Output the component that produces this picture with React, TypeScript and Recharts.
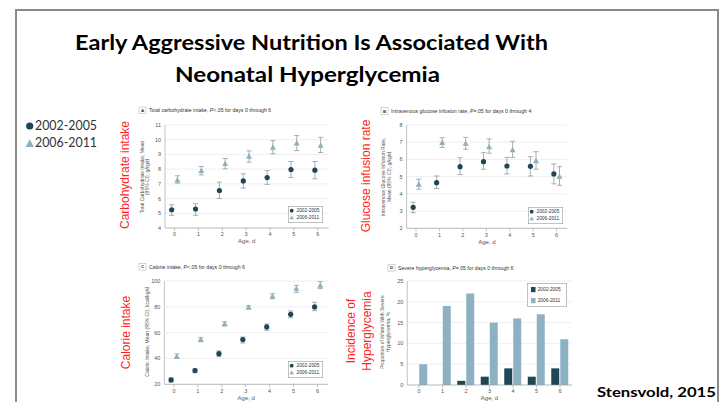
import React from "react";
import {
  ScatterChart,
  Scatter,
  BarChart,
  Bar,
  XAxis,
  YAxis,
  CartesianGrid,
  ErrorBar,
  Legend,
} from "recharts";

const DARK = "#1f4654";
const LIGHT = "#8db1c0";
const RED = "#ff1f1f";
const AXIS = "#9a9a9a";
const GRID = "#e4e4e4";
const TXT = "#555";
const FONT = "'Liberation Sans', Arial, sans-serif";

// ------- data -------
const days = [0, 1, 2, 3, 4, 5, 6];
const cohorts = ["2002-2005", "2006-2011"];

// A: total carbohydrate intake, g/kg/d
const carb2002 = [5.24, 5.29, 6.55, 7.2, 7.43, 7.97, 7.93];
const carb2002Lo = [4.86, 4.86, 6.01, 6.71, 6.96, 7.43, 7.34];
const carb2002Hi = [5.58, 5.65, 7.12, 7.68, 7.9, 8.52, 8.52];
const carb2006 = [7.25, 7.88, 8.36, 8.86, 9.47, 9.76, 9.6];
const carb2006Lo = [7.05, 7.61, 8.02, 8.47, 9.04, 9.26, 9.13];
const carb2006Hi = [7.55, 8.18, 8.72, 9.24, 9.94, 10.28, 10.16];
const carbTicks = [4, 5, 6, 7, 8, 9, 10, 11];

// B: IV glucose infusion rate, g/kg/d
const gir2002 = [3.22, 4.65, 5.58, 5.87, 5.62, 5.6, 5.16];
const gir2002Lo = [2.91, 4.31, 5.12, 5.43, 5.16, 5.04, 4.58];
const gir2002Hi = [3.51, 5.04, 6.1, 6.39, 6.12, 6.16, 5.74];
const gir2006 = [4.54, 6.97, 6.92, 6.72, 6.55, 5.91, 5.0];
const gir2006Lo = [4.27, 6.7, 6.59, 6.36, 6.12, 5.43, 4.5];
const gir2006Hi = [4.85, 7.26, 7.28, 7.19, 7.05, 6.45, 5.58];
const girTicks = [2, 3, 4, 5, 6, 7, 8];

// C: calorie intake, kcal/kg/d
const cal2002 = [23.4, 30.6, 43.7, 54.6, 64.4, 74.2, 79.9];
const cal2002Lo = [21.8, 29.0, 41.4, 52.0, 61.8, 71.6, 77.0];
const cal2002Hi = [24.9, 32.1, 45.8, 56.6, 66.7, 76.8, 83.5];
const cal2006 = [41.4, 54.6, 66.7, 79.6, 88.1, 94.1, 96.4];
const cal2006Lo = [40.1, 53.0, 65.2, 78.3, 86.3, 91.2, 94.1];
const cal2006Hi = [43.5, 56.1, 68.5, 80.9, 90.2, 96.6, 99.5];
const calTicks = [20, 40, 60, 80, 100];

// D: severe hyperglycemia, %
const hyper2002 = [0, 0, 1, 2, 4, 2, 4];
const hyper2006 = [5, 19, 22, 15, 16, 17, 11];
const hyperTicks = [0, 5, 10, 15, 20, 25];

const DODGE = 0.12;

function rows(vals: number[], lo: number[], hi: number[], shift: number) {
  return days.map((d, i) => ({
    x: d + shift,
    y: vals[i],
    err: [vals[i] - lo[i], hi[i] - vals[i]],
  }));
}

const hyperData = days.map((d, i) => ({
  day: d,
  early: hyper2002[i],
  late: hyper2006[i],
}));

const tickStyle = { fontSize: 5.5, fill: TXT, fontFamily: FONT };

function Dot(p: any) {
  return <circle cx={p.cx} cy={p.cy} r={2.6} fill={DARK} />;
}
function Tri(p: any) {
  const { cx, cy } = p;
  return (
    <path
      d={`M${cx},${cy - 3.2} L${cx + 3},${cy + 2.2} L${cx - 3},${cy + 2.2} Z`}
      fill={LIGHT}
    />
  );
}

function ScatterKey() {
  return (
    <svg width={35} height={17}>
      <rect x={0.3} y={0.3} width={34.4} height={16.4} fill="#fff" stroke="#999" strokeWidth={0.6} />
      <circle cx={3.7} cy={4.7} r={1.9} fill={DARK} />
      <path d="M3.7,9.4 L6,13.2 L1.4,13.2 Z" fill={LIGHT} />
      <text x={8.5} y={4.9} fontSize={4.8} fill="#333" dominantBaseline="central" fontFamily={FONT}>
        {cohorts[0]}
      </text>
      <text x={8.5} y={11.7} fontSize={4.8} fill="#333" dominantBaseline="central" fontFamily={FONT}>
        {cohorts[1]}
      </text>
    </svg>
  );
}

function BarKey() {
  return (
    <svg width={40} height={24}>
      <rect x={0.3} y={0.3} width={39.4} height={23.4} fill="#fff" stroke="#999" strokeWidth={0.6} />
      <rect x={4} y={4} width={4.5} height={5.2} fill={DARK} />
      <rect x={4} y={15} width={4.5} height={5.2} fill={LIGHT} />
      <text x={10.7} y={6.6} fontSize={4.8} fill="#333" dominantBaseline="central" fontFamily={FONT}>
        {cohorts[0]}
      </text>
      <text x={10.7} y={17.6} fontSize={4.8} fill="#333" dominantBaseline="central" fontFamily={FONT}>
        {cohorts[1]}
      </text>
    </svg>
  );
}

type Box = { l: number; r: number; t: number; b: number };

function ScatterPanel({
  left,
  top,
  plot,
  yDomain,
  yTicks,
  early,
  late,
  keyAt,
}: {
  left: number;
  top: number;
  plot: Box;
  yDomain: [number, number];
  yTicks: number[];
  early: any[];
  late: any[];
  keyAt: { x: number; y: number };
}) {
  const W = 240;
  const H = 150;
  return (
    <div style={{ position: "absolute", left, top, width: W, height: H }}>
      <ScatterChart
        width={W}
        height={H}
        margin={{ top: plot.t - top, right: left + W - plot.r, bottom: 0, left: 0 }}
      >
        <CartesianGrid vertical={false} stroke={GRID} strokeWidth={0.6} />
        <XAxis
          type="number"
          dataKey="x"
          domain={[-0.4, 6.45]}
          ticks={days}
          interval={0}
          allowDataOverflow
          height={top + H - plot.b}
          tickSize={3}
          tickMargin={1.5}
          tick={tickStyle}
          stroke={AXIS}
          strokeWidth={0.6}
          label={{ value: "Age, d", position: "insideTop", offset: 11, fontSize: 6, fill: TXT, fontFamily: FONT }}
        />
        <YAxis
          type="number"
          dataKey="y"
          domain={yDomain}
          ticks={yTicks}
          interval={0}
          allowDataOverflow
          width={plot.l - left}
          tickLine={false}
          tickSize={2}
          tickMargin={2}
          tick={tickStyle}
          stroke={AXIS}
          strokeWidth={0.6}
        />
        <Scatter name={cohorts[0]} data={early} shape={Dot} isAnimationActive={false}>
          <ErrorBar dataKey="err" direction="y" width={2.6} stroke="#8c8c8c" strokeWidth={0.7} />
        </Scatter>
        <Scatter name={cohorts[1]} data={late} shape={Tri} isAnimationActive={false}>
          <ErrorBar dataKey="err" direction="y" width={2.6} stroke="#8c8c8c" strokeWidth={0.7} />
        </Scatter>
        <Legend
          layout="vertical"
          align="center"
          verticalAlign="middle"
          content={() => <ScatterKey />}
          wrapperStyle={{ left: keyAt.x - left, top: keyAt.y - top, width: 35, height: 17 }}
        />
      </ScatterChart>
    </div>
  );
}

function HyperPanel() {
  const left = 355;
  const top = 258;
  const W = 240;
  const H = 150;
  const plot = { l: 407.25, r: 571.75, t: 281, b: 385 };
  return (
    <div style={{ position: "absolute", left, top, width: W, height: H }}>
      <BarChart
        width={W}
        height={H}
        data={hyperData}
        barSize={8}
        barGap={1}
        margin={{ top: plot.t - top, right: left + W - plot.r, bottom: 0, left: 0 }}
      >
        <CartesianGrid vertical={false} stroke={GRID} strokeWidth={0.6} />
        <XAxis
          dataKey="day"
          interval={0}
          height={top + H - plot.b}
          tickSize={3}
          tickMargin={1.5}
          tick={tickStyle}
          stroke={AXIS}
          strokeWidth={0.6}
          label={{ value: "Age, d", position: "insideTop", offset: 11, fontSize: 6, fill: TXT, fontFamily: FONT }}
        />
        <YAxis
          domain={[0, 25]}
          ticks={hyperTicks}
          interval={0}
          allowDataOverflow
          width={plot.l - left}
          tickLine={false}
          tickSize={2}
          tickMargin={2}
          tick={tickStyle}
          stroke={AXIS}
          strokeWidth={0.6}
        />
        <Bar dataKey="early" name={cohorts[0]} fill={DARK} isAnimationActive={false} />
        <Bar dataKey="late" name={cohorts[1]} fill={LIGHT} isAnimationActive={false} />
        <Legend
          layout="vertical"
          align="center"
          verticalAlign="middle"
          content={() => <BarKey />}
          wrapperStyle={{ left: 527 - left, top: 283 - top, width: 40, height: 24 }}
        />
      </BarChart>
    </div>
  );
}

function PanelTitle({ x, y, letter, pre, rel }: { x: number; y: number; letter: string; pre: string; rel: string }) {
  return (
    <g>
      <rect x={x} y={y - 3.3} width={7} height={6.6} fill="#fff" stroke="#aaa" strokeWidth={0.5} />
      <text x={x + 3.5} y={y} fontSize={4.4} fontWeight={700} fill="#333" textAnchor="middle" dominantBaseline="central" fontFamily={FONT}>
        {letter}
      </text>
      <text x={x + 10} y={y} fontSize={5.2} fill="#333" dominantBaseline="central" fontFamily={FONT}>
        {pre}
        <tspan fontStyle="italic">P</tspan>
        {rel}
      </text>
    </g>
  );
}

function VText({ x, y, size, color, children }: { x: number; y: number; size: number; color: string; children: React.ReactNode }) {
  return (
    <text
      transform={`translate(${x},${y}) rotate(-90)`}
      textAnchor="middle"
      dominantBaseline="central"
      fontSize={size}
      fill={color}
      fontFamily={FONT}
    >
      {children}
    </text>
  );
}

export default function App() {
  return (
    <div
      style={{
        position: "absolute",
        left: 0,
        top: 0,
        width: 722,
        height: 402,
        overflow: "hidden",
        background: "#fff",
        fontFamily: FONT,
      }}
    >
      <ScatterPanel
        left={115}
        top={102}
        plot={{ l: 165, r: 328.5, t: 125, b: 228 }}
        yDomain={[4, 11]}
        yTicks={carbTicks}
        early={rows(carb2002, carb2002Lo, carb2002Hi, -DODGE)}
        late={rows(carb2006, carb2006Lo, carb2006Hi, DODGE)}
        keyAt={{ x: 288, y: 206 }}
      />
      <ScatterPanel
        left={355}
        top={102}
        plot={{ l: 406.6, r: 567.2, t: 125, b: 228.3 }}
        yDomain={[2, 8]}
        yTicks={girTicks}
        early={rows(gir2002, gir2002Lo, gir2002Hi, -DODGE)}
        late={rows(gir2006, gir2006Lo, gir2006Hi, DODGE)}
        keyAt={{ x: 528, y: 206.5 }}
      />
      <ScatterPanel
        left={115}
        top={258}
        plot={{ l: 164.4, r: 328.2, t: 281, b: 384.3 }}
        yDomain={[20, 100]}
        yTicks={calTicks}
        early={rows(cal2002, cal2002Lo, cal2002Hi, -DODGE)}
        late={rows(cal2006, cal2006Lo, cal2006Hi, DODGE)}
        keyAt={{ x: 288, y: 361 }}
      />
      <HyperPanel />

      <svg
        width={722}
        height={402}
        style={{ position: "absolute", left: 0, top: 0, pointerEvents: "none" }}
      >
        {/* slide frame */}
        <rect x={16} y={10} width={702} height={420} fill="none" stroke="#8a8a8a" strokeWidth={2} />

        <text x={311.5} y={50} textAnchor="middle" fontFamily="Lato, sans-serif" fontWeight={700} fontSize={21} fill="#000" textLength={473} lengthAdjust="spacingAndGlyphs">
          Early Aggressive Nutrition Is Associated With
        </text>
        <text x={307.5} y={81.7} textAnchor="middle" fontFamily="Lato, sans-serif" fontWeight={700} fontSize={21} fill="#000" textLength={265} lengthAdjust="spacingAndGlyphs">
          Neonatal Hyperglycemia
        </text>

        {/* left key */}
        <circle cx={29.7} cy={126} r={3.6} fill={DARK} />
        <text x={35} y={129.6} fontFamily="Lato, sans-serif" fontSize={12.5} fill="#333" textLength={62} lengthAdjust="spacingAndGlyphs">
          {cohorts[0]}
        </text>
        <path d="M29.7,139.3 L33.8,147 L25.6,147 Z" fill={LIGHT} />
        <text x={35} y={147} fontFamily="Lato, sans-serif" fontSize={12.5} fill="#333" textLength={62} lengthAdjust="spacingAndGlyphs">
          {cohorts[1]}
        </text>

        {/* panel titles */}
        <PanelTitle x={139} y={110.3} letter="A" pre="Total carbohydrate intake, " rel="<.05 for days 0 through 6" />
        <PanelTitle x={381} y={111} letter="B" pre="Intravenous glucose infusion rate, " rel="=.05 for days 0 through 4" />
        <PanelTitle x={139} y={266.8} letter="C" pre="Calorie intake, " rel="<.05 for days 0 through 6" />
        <PanelTitle x={388} y={267.8} letter="D" pre="Severe hyperglycemia, " rel="=.05 for days 0 through 6" />

        {/* axis titles */}
        <VText x={142} y={177} size={5} color={TXT}>Total Carbohydrate Intake, Mean</VText>
        <VText x={147.3} y={177} size={5} color={TXT}>(95% CI), g/kg/d</VText>
        <VText x={383.3} y={177} size={5} color={TXT}>Intravenous Glucose Infusion Rate,</VText>
        <VText x={388.5} y={177} size={5} color={TXT}>Mean (95% CI), g/kg/d</VText>
        <VText x={146.7} y={332} size={5} color={TXT}>Caloric Intake, Mean (95% CI), kcal/kg/d</VText>
        <VText x={382} y={332} size={5} color={TXT}>Proportion of Infants With Severe</VText>
        <VText x={387.5} y={332} size={5} color={TXT}>Hyperglycemia, %</VText>

        {/* red annotations */}
        <VText x={125} y={175} size={12} color={RED}>Carbohydrate intake</VText>
        <VText x={365.5} y={176} size={12} color={RED}>Glucose infusion rate</VText>
        <VText x={125.5} y={332.5} size={12} color={RED}>Calorie intake</VText>
        <VText x={351} y={331} size={12} color={RED}>Incidence of</VText>
        <VText x={367} y={331} size={12} color={RED}>Hyperglycemia</VText>

        <text x={597} y={396.7} fontFamily="Lato, sans-serif" fontWeight={700} fontSize={14} fill="#000" textLength={119} lengthAdjust="spacingAndGlyphs">
          Stensvold, 2015
        </text>
      </svg>
    </div>
  );
}
